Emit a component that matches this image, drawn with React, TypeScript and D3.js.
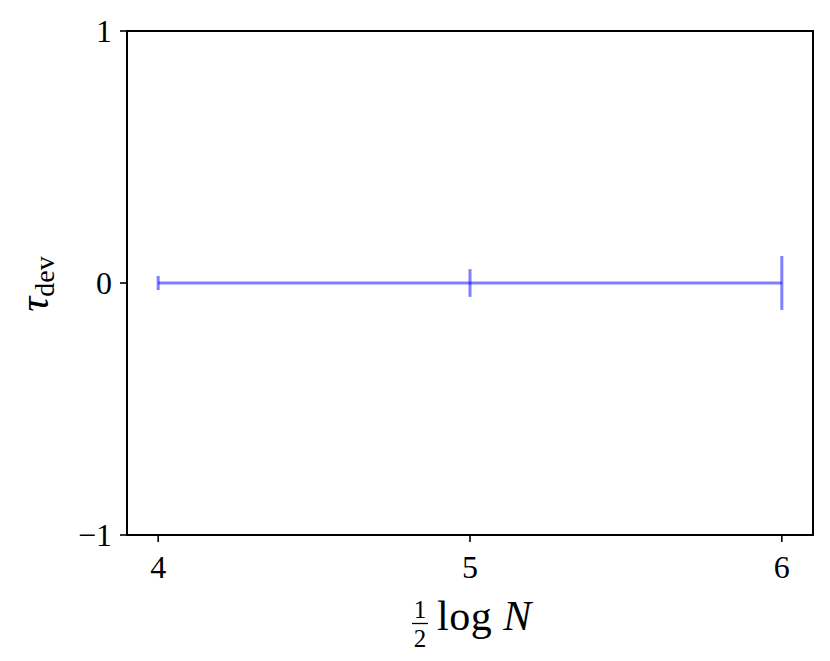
import React from "react";
import * as d3 from "d3";

const xs = [4, 5, 6];
const means = [0, 0, 0];
const errs = [0.028, 0.055, 0.107];
const xTicks = [4, 5, 6];
const yTicks = [-1, 0, 1];
const yTickLabels = ["\u22121", "0", "1"];

const W = 830;
const H = 661;
const margin = { left: 127, top: 31, right: 17, bottom: 126 };
const FONT = "'Liberation Serif', 'DejaVu Serif', serif";

export default function App() {
  const x = d3
    .scaleLinear()
    .domain([3.9, 6.1])
    .range([margin.left, W - margin.right]);
  const y = d3
    .scaleLinear()
    .domain([-1, 1])
    .range([H - margin.bottom, margin.top]);

  const line = d3
    .line<number>()
    .x((d, i) => x(xs[i]))
    .y((d) => y(d));

  const color = "rgba(0,0,255,0.5)";

  return (
    <svg width={W} height={H} style={{ position: "absolute", left: 0, top: 0 }}>
      <rect width={W} height={H} fill="white" />
      {/* series line */}
      <path d={line(means) || ""} fill="none" stroke={color} strokeWidth={3} />
      {/* error bars */}
      {xs.map((v, i) => (
        <line
          key={i}
          x1={x(v)}
          x2={x(v)}
          y1={y(means[i] - errs[i])}
          y2={y(means[i] + errs[i])}
          stroke={color}
          strokeWidth={3}
        />
      ))}
      {/* spines */}
      <rect
        x={margin.left}
        y={margin.top}
        width={W - margin.left - margin.right}
        height={H - margin.top - margin.bottom}
        fill="none"
        stroke="black"
        strokeWidth={2}
      />
      {/* x ticks */}
      {xTicks.map((t) => (
        <g key={t}>
          <line x1={x(t)} x2={x(t)} y1={y(-1)} y2={y(-1) + 7} stroke="black" strokeWidth={1.6} />
          <text
            x={x(t)}
            y={y(-1) + 43}
            textAnchor="middle"
            fontFamily={FONT}
            fontSize={32}
          >
            {t}
          </text>
        </g>
      ))}
      {/* y ticks */}
      {yTicks.map((t, i) => (
        <g key={t}>
          <line x1={margin.left - 7} x2={margin.left} y1={y(t)} y2={y(t)} stroke="black" strokeWidth={1.6} />
          <text
            x={margin.left - 15}
            y={y(t) + 11}
            textAnchor="end"
            fontFamily={FONT}
            fontSize={32}
          >
            {yTickLabels[i]}
          </text>
        </g>
      ))}
      {/* x label: 1/2 log N */}
      <g fontFamily={FONT}>
        <text x={420} y={618} textAnchor="middle" fontSize={25}>1</text>
        <line x1={412} x2={428} y1={623.5} y2={623.5} stroke="black" strokeWidth={1.3} />
        <text x={420} y={647} textAnchor="middle" fontSize={25}>2</text>
        <text x={437} y={630} fontSize={42} letterSpacing={0.5}>
          log <tspan fontStyle="italic">N</tspan>
        </text>
      </g>
      {/* y label: tau_dev */}
      <g transform={`translate(48, 284) rotate(-90)`} fontFamily={FONT}>
        <text x={0} y={0} textAnchor="middle" fontSize={42}>
          <tspan fontStyle="italic">{"\u03c4"}</tspan>
          <tspan fontSize={28} dy={6}>dev</tspan>
        </text>
      </g>
    </svg>
  );
}
